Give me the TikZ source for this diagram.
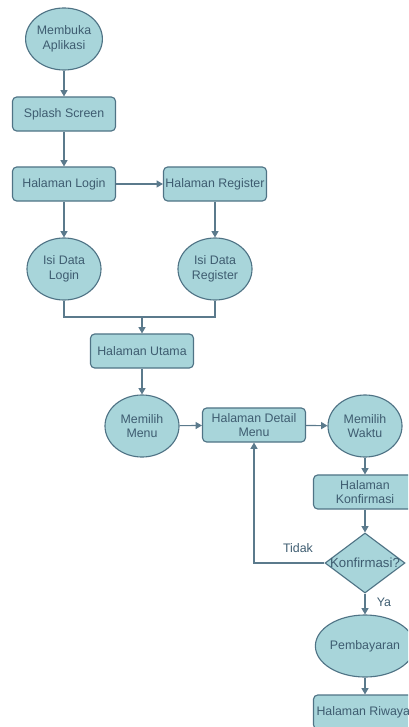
\documentclass[tikz,border=0pt]{standalone}
\usepackage{fontspec}
\setmainfont{Liberation Sans}
\usepackage{tikz}
\usetikzlibrary{shapes.geometric,arrows.meta}

\definecolor{boxfill}{HTML}{A8D5DA}
\definecolor{boxdraw}{HTML}{4F7385}
\definecolor{boxtext}{HTML}{3E5C70}
\definecolor{linecol}{HTML}{5B7A8C}

\begin{document}
\begin{tikzpicture}[x=0.025cm,y=-0.025cm,->,>={Triangle[length=4.5pt,width=5pt]},draw=linecol,line width=0.8pt]
    \tikzstyle{base}=[draw=boxdraw,fill=boxfill,text=boxtext,font=\fontsize{8.8}{10.4}\selectfont,align=center,inner sep=0pt]
    \tikzstyle{page}=[base,rectangle,rounded corners=3pt,minimum width=2.575cm,minimum height=0.85cm]
    \tikzstyle{action}=[base,ellipse,minimum width=1.85cm,minimum height=1.55cm]
    \tikzstyle{decision}=[base,diamond,minimum width=2cm,minimum height=1.5cm]
    \tikzstyle{annot}=[text=boxtext,font=\fontsize{8.8}{10.4}\selectfont]

    \clip (0,0) rectangle (408,727);

    % Draw the login part
    \node[action] (A-0) at (64,39) {Membuka\\Aplikasi};
    \node[page] (P-0) at (64,114) {Splash Screen};
    \node[page] (P-1) at (64,184) {Halaman Login};
    \node[page] (P-2) at (215,184) {Halaman Register};
    \node[action] (A-1) at (64,269) {Isi Data\\Login};
    \node[action] (A-2) at (215,269) {Isi Data\\Register};
    \coordinate (M) at (142,317);

    % Draw the menu part
    \node[page] (P-3) at (142,351) {Halaman Utama};
    \node[action] (A-3) at (142,426) {Memilih\\Menu};
    \node[page] (P-4) at (254,425) {Halaman Detail\\Menu};
    \node[action] (A-4) at (365,426) {Memilih\\Waktu};
    \node[page] (P-5) at (365,492) {Halaman\\Konfirmasi};
    \node[decision,label={[annot,font=\fontsize{9.4}{11}\selectfont]center:Konfirmasi?}] (D) at (365,563) {};
    \node[action] (A-5) at (365,646) {Pembayaran};
    \node[page] (P-6) at (365,712) {Halaman Riwayat};

    % Connect the nodes
    \draw (A-0) -- (P-0);
    \draw (P-0) -- (P-1);
    \draw (P-1) -- (P-2);
    \draw (P-1) -- (A-1);
    \draw (P-2) -- (A-2);
    \draw[-] (A-1) |- (M);
    \draw[-] (A-2) |- (M);
    \draw (M) -- (P-3);
    \draw (P-3) -- (A-3);
    \draw (A-3) -- (P-4);
    \draw (P-4) -- (A-4);
    \draw (A-4) -- (P-5);
    \draw (P-5) -- (D);
    \draw (D.west) -| (P-4.south);
    \draw (D) -- (A-5);
    \draw (A-5) -- (P-6);

    % Annotate the decision
    \node[annot] (no) at (298,548) {Tidak};
    \node[annot] (yes) at (384,602) {Ya};
\end{tikzpicture}
\end{document}
